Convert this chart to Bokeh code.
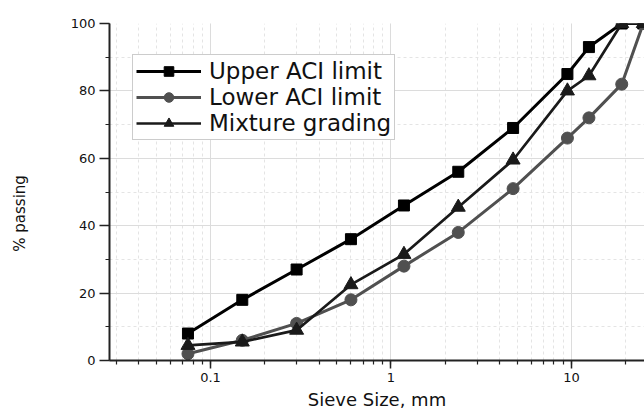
from bokeh.plotting import figure
from bokeh.models import (Legend, LegendItem, LogTicker, SingleIntervalTicker,
                          CustomJSTickFormatter, Range1d)
from bokeh.embed import file_html
from bokeh.resources import INLINE

# Data
sieve_mm = [0.075, 0.15, 0.3, 0.6, 1.18, 2.36, 4.75, 9.5, 12.5, 19, 25]
upper_aci = [8, 18, 27, 36, 46, 56, 69, 85, 93, 100, 100]
lower_aci = [2, 6, 11, 18, 28, 38, 51, 66, 72, 82, 100]
mixture = [4.5, 5.5, 9, 22.5, 31.5, 45.5, 59.5, 80, 84.5, 100, 100]

FONT = "DejaVu Sans"

p = figure(width=644, height=412, x_axis_type="log",
           x_range=Range1d(0.02756, 25.4), y_range=Range1d(0, 100),
           output_backend="svg", toolbar_location=None,
           min_border_left=109, min_border_right=0,
           min_border_top=23, min_border_bottom=51)
p.outline_line_color = None
p.background_fill_color = "white"
p.border_fill_color = "white"

# Axes
p.xaxis.ticker = LogTicker(num_minor_ticks=10)
p.xaxis.formatter = CustomJSTickFormatter(code="return tick.toString();")
p.yaxis.ticker = SingleIntervalTicker(interval=20, num_minor_ticks=2)
for ax in (p.xaxis[0], p.yaxis[0]):
    ax.axis_line_color = "#222222"
    ax.axis_line_width = 2
    ax.major_tick_line_color = "#222222"
    ax.minor_tick_line_color = "#222222"
    ax.major_tick_line_width = 1.5
    ax.minor_tick_line_width = 1.2
    ax.major_tick_in = 0
    ax.minor_tick_in = 0
    ax.major_tick_out = 8
    ax.minor_tick_out = 4
    ax.major_label_text_font = FONT
    ax.major_label_text_font_size = "13px"
    ax.major_label_text_color = "#111111"
    ax.major_label_standoff = 4
    ax.axis_label_text_font = FONT
    ax.axis_label_text_font_style = "normal"
    ax.axis_label_text_color = "#111111"
p.yaxis.major_tick_out = 10
p.xaxis.axis_label = "Sieve Size, mm"
p.xaxis.axis_label_text_font_size = "18px"
p.xaxis.axis_label_standoff = 4
# trailing no-break spaces push the visible label below the frame centre,
# as in the reference
p.yaxis.axis_label = "% passing" + "\u00a0" * 9
p.yaxis.axis_label_text_font_size = "15px"
p.yaxis.axis_label_standoff = 39

# Grid
for g in (p.xgrid[0], p.ygrid[0]):
    g.grid_line_color = "#dcdcdc"
    g.grid_line_width = 1
    g.minor_grid_line_color = "#e4e4e4"
    g.minor_grid_line_dash = "3 3"
    g.minor_grid_line_width = 1

# Series
l1 = p.line(sieve_mm, upper_aci, line_color="black", line_width=3)
m1 = p.scatter(sieve_mm, upper_aci, marker="square", size=11,
               fill_color="black", line_color="black")
l2 = p.line(sieve_mm, lower_aci, line_color="#505050", line_width=3)
m2 = p.scatter(sieve_mm, lower_aci, marker="circle", size=12,
               fill_color="#505050", line_color="#505050")
l3 = p.line(sieve_mm, mixture, line_color="#1a1a1a", line_width=2.7)
m3 = p.scatter(sieve_mm, mixture, marker="triangle", size=14,
               fill_color="#1a1a1a", line_color="#1a1a1a")

legend = Legend(items=[
    LegendItem(label="Upper ACI limit", renderers=[l1, m1]),
    LegendItem(label="Lower ACI limit", renderers=[l2, m2]),
    LegendItem(label="Mixture grading", renderers=[l3, m3]),
], location=(23, 220))
legend.label_text_font = FONT
legend.label_text_font_size = "23px"
legend.label_text_color = "#111111"
legend.glyph_width = 65
legend.glyph_height = 24
legend.label_standoff = 8
legend.padding = 3
legend.spacing = 0
legend.margin = 0
legend.border_line_color = "#999999"
legend.border_line_width = 1.5
legend.background_fill_color = "white"
legend.background_fill_alpha = 1
p.add_layout(legend)

open("out.html", "w").write(file_html(p, INLINE))
